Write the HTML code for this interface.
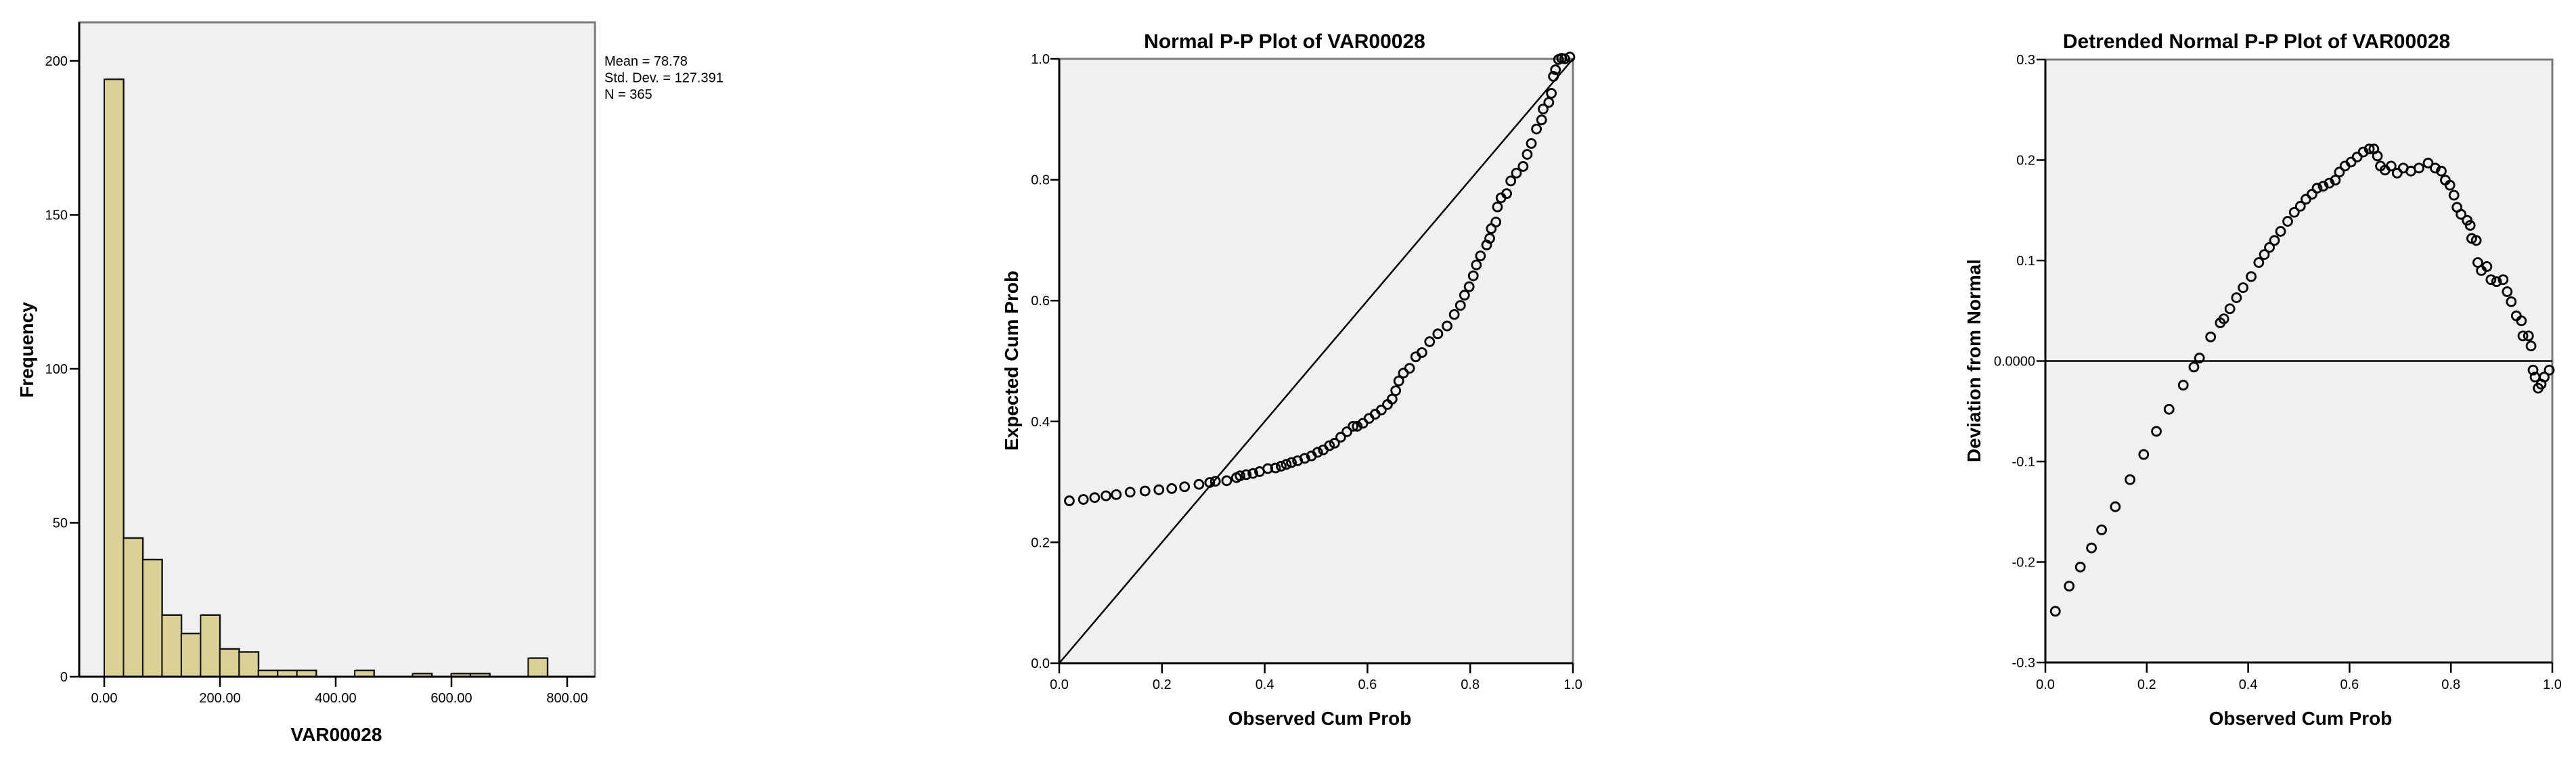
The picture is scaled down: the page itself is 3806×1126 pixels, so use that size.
<!DOCTYPE html>
<html><head><meta charset="utf-8"><style>
html,body{margin:0;padding:0;background:#fff;}
svg{display:block;font-family:"Liberation Sans",Arial,sans-serif;}
</style></head><body>
<svg id="root" width="3806" height="1126" viewBox="0 0 3806 1126" xmlns="http://www.w3.org/2000/svg">
<g id="hist"></g>
<g id="pp"></g>
<g id="dt"></g>
</svg>
<script>
// Histogram data
const histBinWidth = 33.3;
const histCounts = [194,45,38,20,14,20,9,8,2,2,2,0,0,2,0,0,1,0,1,1,0,0,6];
const histYTicks = [0,50,100,150,200];
const histXTicks = [0,200,400,600,800];
const histXTickLabels = ["0.00","200.00","400.00","600.00","800.00"];
const statsLines = ["Mean = 78.78","Std. Dev. = 127.391","N = 365"];
// P-P data: observed cumulative probabilities and deviations (observed - expected)
const obsProb = [0.0197,0.047,0.069,0.091,0.111,0.138,0.167,0.194,0.219,0.244,0.272,0.293,0.304,0.326,0.345,0.352,0.364,0.377,0.390,0.406,0.421,0.432,0.442,0.452,0.464,0.478,0.491,0.503,0.514,0.526,0.536,0.548,0.560,0.572,0.580,0.591,0.603,0.615,0.627,0.639,0.648,0.655,0.661,0.670,0.682,0.694,0.706,0.721,0.737,0.755,0.769,0.781,0.789,0.798,0.806,0.812,0.820,0.832,0.838,0.841,0.850,0.853,0.860,0.871,0.879,0.890,0.903,0.911,0.919,0.929,0.939,0.942,0.953,0.958,0.962,0.966,0.972,0.978,0.984,0.994];
const deviation = [-0.249,-0.224,-0.205,-0.186,-0.168,-0.145,-0.118,-0.093,-0.070,-0.048,-0.024,-0.006,0.003,0.024,0.038,0.042,0.052,0.063,0.073,0.084,0.098,0.106,0.113,0.120,0.129,0.139,0.148,0.154,0.161,0.166,0.172,0.174,0.177,0.180,0.188,0.194,0.198,0.203,0.208,0.211,0.211,0.204,0.194,0.190,0.194,0.187,0.192,0.189,0.192,0.197,0.192,0.189,0.180,0.175,0.165,0.153,0.146,0.140,0.135,0.122,0.120,0.098,0.090,0.094,0.081,0.079,0.081,0.069,0.059,0.045,0.040,0.025,0.025,0.015,-0.009,-0.016,-0.027,-0.023,-0.016,-0.009];
const ppTicks = [0,0.2,0.4,0.6,0.8,1.0];
const ppTickLabels = ["0.0","0.2","0.4","0.6","0.8","1.0"];
const dtYTicks = [-0.3,-0.2,-0.1,0,0.1,0.2,0.3];
const dtYTickLabels = ["-0.3","-0.2","-0.1","0.0000","0.1","0.2","0.3"];

const NS="http://www.w3.org/2000/svg";
function mk(parent, tag, attrs, text){
  const e=document.createElementNS(NS,tag);
  for(const k in attrs) e.setAttribute(k,attrs[k]);
  if(text!==undefined) e.textContent=text;
  parent.appendChild(e); return e;
}
function frame(g, L,R,T,B){
  const bg=mk(g,'rect',{x:L,y:T,width:R-L,height:B-T,fill:'#f0f0f0',stroke:'#7a7a7a','stroke-width':3});
  
  
}
function axesLines(g,L,R,T,B){
  const a=mk(g,'line',{x1:L,y1:T,x2:L,y2:B,stroke:'#000','stroke-width':3});
  
  
  const b=mk(g,'line',{x1:L,y1:B,x2:R,y2:B,stroke:'#000','stroke-width':3});
  
  
}
function yTick(g,x,y,label,L){
  const t=mk(g,'line',{x1:L-13,y1:y,x2:L,y2:y,stroke:'#000','stroke-width':2.5});
  
  
  const tx=mk(g,'text',{x:x,y:y+7,'text-anchor':'end','font-size':20,fill:'#000'},label);
  
  
}
function xTick(g,x,B,ly,label){
  const t=mk(g,'line',{x1:x,y1:B,x2:x,y2:B+15,stroke:'#000','stroke-width':2.5});
  
  
  const tx=mk(g,'text',{x:x,y:ly,'text-anchor':'middle','font-size':20,fill:'#000'},label);
  
  
}
function title(g,x,y,txt,size,name,rot){
  const a={x:x,y:y,'text-anchor':'middle','font-size':size,'font-weight':'bold',fill:'#000'};
  if(rot) a.transform='rotate(-90 '+x+' '+y+')';
  const t=mk(g,'text',a,txt);
  
  
}
function circle(g,cx,cy){
  const c=mk(g,'circle',{cx:cx,cy:cy,r:6.5,fill:'none',stroke:'#000','stroke-width':2.8});
  
  
}

// ---------- Histogram ----------
(function(){
  const g=document.getElementById('hist');
  const L=117,R=879,T=33,B=1000;
  const x0=154, pxPerUnitX=171/200, pxPerUnitY=4.55;
  const sx=v=>x0+v*pxPerUnitX, sy=v=>B-v*pxPerUnitY;
  frame(g,L,R,T,B);
  histCounts.forEach((c,i)=>{
    if(c<=0) return;
    const xa=sx(i*histBinWidth), xb=sx((i+1)*histBinWidth);
    const sh=mk(g,'rect',{x:xa+1.5,y:sy(c)-1.5,width:xb-xa,height:B-sy(c),fill:'#555'});
    
    
    const r=mk(g,'rect',{x:xa,y:sy(c),width:xb-xa,height:B-sy(c),fill:'#dbd096',stroke:'#111','stroke-width':2});
    
    
  });
  axesLines(g,L,R,T,B);
  histYTicks.forEach(v=>yTick(g,100,sy(v),String(v),L-1));
  histXTicks.forEach((v,i)=>xTick(g,sx(v),B,1038,histXTickLabels[i]));
  statsLines.forEach((s,i)=>{
    const t=mk(g,'text',{x:893,y:97+i*24.4,'font-size':20,fill:'#000'},s);
    
    
  });
  title(g,497,1095,'VAR00028',28,'x-axis-title');
  title(g,49,517,'Frequency',28,'y-axis-title',true);
})();

// ---------- Normal P-P ----------
(function(){
  const g=document.getElementById('pp');
  const L=1565,R=2324,T=87,B=980;
  const sx=v=>L+v*(R-L), sy=v=>B-v*(B-T);
  frame(g,L,R,T,B);
  const ln=mk(g,'line',{x1:sx(0),y1:sy(0),x2:sx(1),y2:sy(1),stroke:'#000','stroke-width':2.5});
  
  
  obsProb.forEach((o,i)=>circle(g,sx(o),sy(o-deviation[i])));
  axesLines(g,L,R,T,B);
  ppTicks.forEach((v,i)=>yTick(g,1551,sy(v),ppTickLabels[i],L));
  ppTicks.forEach((v,i)=>xTick(g,sx(v),B,1018,ppTickLabels[i]));
  title(g,1898,71,'Normal P-P Plot of VAR00028',30,'chart-title');
  title(g,1950,1071,'Observed Cum Prob',28,'x-axis-title');
  title(g,1504,533,'Expected Cum Prob',28,'y-axis-title',true);
})();

// ---------- Detrended ----------
(function(){
  const g=document.getElementById('dt');
  const L=3022,R=3771,T=88,B=979;
  const sx=v=>L+v*(R-L), sy=v=>B-(v+0.3)/0.6*(B-T);
  frame(g,L,R,T,B);
  const ln=mk(g,'line',{x1:L,y1:sy(0),x2:R,y2:sy(0),stroke:'#000','stroke-width':2.5});
  
  
  obsProb.forEach((o,i)=>circle(g,sx(o),sy(deviation[i])));
  axesLines(g,L,R,T,B);
  dtYTicks.forEach((v,i)=>yTick(g,3007,sy(v),dtYTickLabels[i],L));
  ppTicks.forEach((v,i)=>xTick(g,sx(v),B,1018,ppTickLabels[i]));
  title(g,3334,71,'Detrended Normal P-P Plot of VAR00028',30,'chart-title');
  title(g,3399,1071,'Observed Cum Prob',28,'x-axis-title');
  title(g,2926,533,'Deviation from Normal',28,'y-axis-title',true);
})();
</script>
</body></html>
